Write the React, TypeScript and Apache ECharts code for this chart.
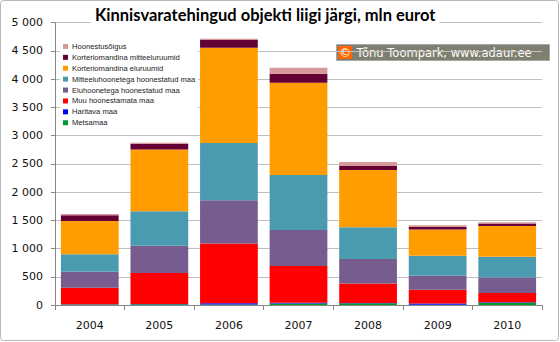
import React, { useEffect, useRef } from "react";
import * as echarts from "echarts";

const years = ["2004", "2005", "2006", "2007", "2008", "2009", "2010"];
const metsamaa = [10, 12, 8, 28, 30, 5, 40];
const haritavaMaa = [5, 5, 22, 10, 5, 20, 10];
const muuHoonestamataMaa = [291, 548, 1060, 651, 348, 245, 162];
const eluhoonetegaMaa = [282, 483, 765, 641, 430, 248, 277];
const mitteeluhoonetegaMaa = [313, 613, 1013, 972, 565, 353, 364];
const kortEluruumid = [588, 1095, 1690, 1633, 1012, 466, 548];
const kortMitteeluruumid = [101, 101, 136, 159, 71, 46, 42];
const hoonestusoigus = [23, 18, 23, 106, 71, 30, 23];

const seriesDefs = [
  { name: "Metsamaa", data: metsamaa, color: "#009a2e" },
  { name: "Haritava maa", data: haritavaMaa, color: "#0000ff" },
  { name: "Muu hoonestamata maa", data: muuHoonestamataMaa, color: "#ff0000" },
  { name: "Eluhoonetega hoonestatud maa", data: eluhoonetegaMaa, color: "#765c8f" },
  { name: "Mitteeluhoonetega hoonestatud maa", data: mitteeluhoonetegaMaa, color: "#4b9bb0" },
  { name: "Korteriomandina eluruumid", data: kortEluruumid, color: "#ff9c00" },
  { name: "Korteriomandina mitteeluruumid", data: kortMitteeluruumid, color: "#650035" },
  { name: "Hoonestusõigus", data: hoonestusoigus, color: "#d9999a" },
];

export default function App() {
  const ref = useRef<HTMLDivElement>(null);
  useEffect(() => {
    if (!ref.current) return;
    const chart = echarts.init(ref.current, null, { renderer: "svg" });
    const option: any = {
      animation: false,
      backgroundColor: "#ffffff",
      title: {
        text: "Kinnisvaratehingud objekti liigi järgi, mln eurot",
        left: 91,
        top: 5,
        padding: [1, 4, 1, 4],
        backgroundColor: "#ffffff",
        textStyle: {
          fontFamily: "Lato",
          fontWeight: "bold",
          fontSize: 16.5,
          color: "#000000",
        },
      },
      legend: {
        orient: "vertical",
        left: 60,
        top: 39,
        z: 1,
        padding: [2, 3, 2, 3],
        backgroundColor: "#ffffff",
        itemWidth: 5,
        itemHeight: 5,
        itemGap: 0,
        icon: "rect",
        data: seriesDefs.map((s) => s.name).reverse(),
        textStyle: {
          fontFamily: "Liberation Sans",
          fontSize: 7.6,
          lineHeight: 10.9,
          color: "#222222",
          padding: [0, 0, 0, -1],
        },
      },
      grid: { left: 55, right: 18, top: 22.7, bottom: 37 },
      xAxis: {
        type: "category",
        data: years,
        axisLine: { lineStyle: { color: "#868686" } },
        axisTick: { show: true, length: 5, lineStyle: { color: "#868686" } },
        axisLabel: {
          margin: 15,
          fontFamily: "DejaVu Sans",
          fontSize: 11,
          color: "#111111",
        },
      },
      yAxis: {
        type: "value",
        min: 0,
        max: 5000,
        interval: 500,
        axisLine: { show: true, lineStyle: { color: "#868686" } },
        axisTick: { show: true, length: 4, lineStyle: { color: "#868686" } },
        splitLine: { lineStyle: { color: "#bfbfbf" } },
        axisLabel: {
          margin: 12,
          fontFamily: "DejaVu Sans",
          fontSize: 11,
          color: "#111111",
          formatter: (v: number) =>
            String(v).replace(/\B(?=(\d{3})+(?!\d))/g, " "),
        },
      },
      series: seriesDefs.map((s) => ({
        name: s.name,
        type: "bar",
        stack: "total",
        z: 3,
        barCategoryGap: "17%",
        data: s.data,
        itemStyle: { color: s.color },
      })),
      graphic: [
        {
          type: "rect",
          shape: { x: 0.5, y: 0.5, width: 558, height: 340, r: 3 },
          style: { fill: "none", stroke: "#b8b8b8", lineWidth: 1 },
          silent: true,
        },
        {
          type: "group",
          left: 336,
          top: 44,
          children: [
            {
              type: "rect",
              shape: { x: 0, y: 0, width: 213, height: 16 },
              style: { fill: "#7f7f70", stroke: "#a8a8a8", lineWidth: 1 },
            },
            {
              type: "rect",
              shape: { x: 1.5, y: 1.5, width: 14, height: 13 },
              style: { fill: "#ff6600" },
            },
            {
              type: "text",
              x: 8.5,
              y: 8,
              style: {
                text: "©",
                fill: "#ffffff",
                fontFamily: "DejaVu Sans",
                fontSize: 12,
                align: "center",
                verticalAlign: "middle",
              },
            },
            {
              type: "text",
              x: 20,
              y: 8.5,
              style: {
                text: "Tõnu Toompark, www.adaur.ee",
                fill: "#ffffff",
                fontFamily: "DejaVu Sans",
                fontSize: 11.5,
                align: "left",
                verticalAlign: "middle",
              },
            },
          ],
        },
      ],
    };
    chart.setOption(option);
    return () => chart.dispose();
  }, []);
  return (
    <div
      ref={ref}
      style={{ position: "fixed", left: 0, top: 0, width: 560, height: 342 }}
    />
  );
}
